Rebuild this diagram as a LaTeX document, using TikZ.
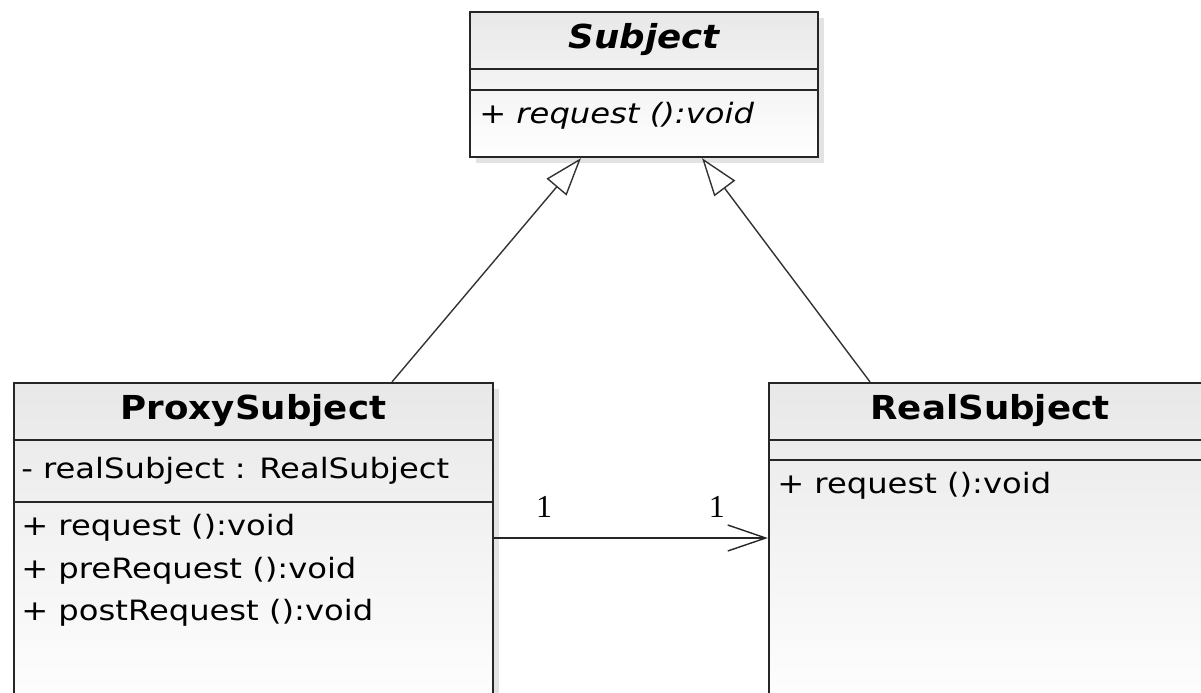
\documentclass[tikz,border=0pt]{standalone}
\usepackage{fontspec}
\setmainfont{DejaVu Sans}
\newfontfamily\umlfont[FakeStretch=1.15]{DejaVu Sans}
\newfontfamily\umltitle[FakeStretch=1.08]{DejaVu Sans}
\newfontfamily\multfont{Liberation Serif}
\usetikzlibrary{arrows.meta,fit,shadows}
\tikzset {>=Stealth}
\tikzset{
  classbox/.style={draw=black!85, line width=1.1pt, inner sep=0pt,
    top color=black!9, bottom color=white,
    drop shadow={opacity=0.22, shadow xshift=3pt, shadow yshift=-3pt}},
  classname/.style={font=\fontsize{16.5pt}{18pt}\umltitle\bfseries, inner sep=0pt},
  member/.style={font=\fontsize{14pt}{16pt}\umlfont, anchor=base west, inner sep=0pt},
  divider/.style={draw=black!85, line width=1.1pt},
  inherit/.style={-{Triangle[fill=white,length=19pt,width=13pt]}, line width=0.7pt, draw=black!80},
  assoc/.style={-{Straight Barb[length=19pt,width=13pt]}, line width=0.7pt, draw=black!85},
  mult/.style={font=\fontsize{16pt}{18pt}\multfont, inner sep=0pt}
}

\begin{document}
\begin{tikzpicture}[x=0.5pt,y=-0.5pt]
\useasboundingbox (0,0) rectangle (1201,692);
\clip (0,0) rectangle (1201,692);

% Subject (abstract)
\node[classbox, fit={(470,12) (818,157)}] (subj) {};
\node[classname] (subj name) at ([yshift=-14.5pt]subj.north) {\itshape Subject};
\draw[divider] ([yshift=-29pt]subj.north west) -- ([yshift=-29pt]subj.north east);
\draw[divider] ([yshift=-39.5pt]subj.north west) -- ([yshift=-39.5pt]subj.north east);
\node[member] (subj op) at ([xshift=5pt,yshift=-56.5pt]subj.north west) {\itshape + request ():void};

% ProxySubject
\node[classbox, fit={(14,383) (493,720)}] (proxy) {};
\node[classname] (proxy name) at ([yshift=-14.5pt]proxy.north) {ProxySubject};
\draw[divider] ([yshift=-29pt]proxy.north west) -- ([yshift=-29pt]proxy.north east);
\draw[divider] ([yshift=-60pt]proxy.north west) -- ([yshift=-60pt]proxy.north east);
\node[member] (proxy attr) at ([xshift=4pt,yshift=-48.5pt]proxy.north west) {- realSubject : RealSubject};
\node[member] (proxy op1) at ([xshift=4pt,yshift=-77pt]proxy.north west) {+ request ():void};
\node[member] (proxy op2) at ([xshift=4pt,yshift=-98.5pt]proxy.north west) {+ preRequest ():void};
\node[member] (proxy op3) at ([xshift=4pt,yshift=-119.5pt]proxy.north west) {+ postRequest ():void};

% RealSubject
\node[classbox, fit={(769,383) (1211,720)}] (real) {};
\node[classname] (real name) at ([yshift=-14.5pt]real.north) {RealSubject};
\draw[divider] ([yshift=-29pt]real.north west) -- ([yshift=-29pt]real.north east);
\draw[divider] ([yshift=-39pt]real.north west) -- ([yshift=-39pt]real.north east);
\node[member] (real op) at ([xshift=4.5pt,yshift=-56pt]real.north west) {+ request ():void};

% generalizations
\draw[inherit] (proxy.north -| 392,0) -- (subj.south -| 581,0);
\draw[inherit] (real.north -| 870,0) -- (subj.south -| 702,0);

% association
\draw[assoc] (proxy.east |- 0,538) -- (real.west |- 0,538)
  node[pos=0, mult, xshift=25pt, yshift=15.5pt] (mult a) {1}
  node[pos=1, mult, xshift=-25.5pt, yshift=15.5pt] (mult b) {1};

\end{tikzpicture}
\end{document}
